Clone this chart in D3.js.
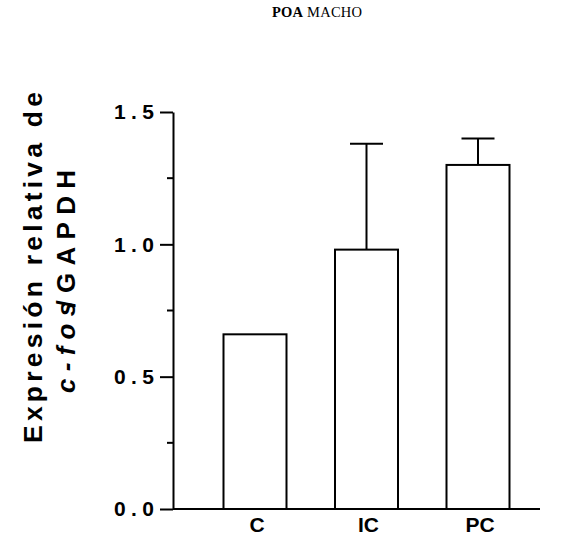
<!DOCTYPE html>
<html>
<head>
<meta charset="utf-8">
<script src="https://cdn.jsdelivr.net/npm/d3@7"></script>
<style>
  body { margin: 0; background: #fff; }
  svg { display: block; }
</style>
</head>
<body>
<div id="chart"></div>
<script>
// valores
const categories = ['C', 'IC', 'PC'];
const means = [0.66, 0.98, 1.30];
const errors = [null, 0.40, 0.10];
const majorTicks = [0, 0.5, 1.0, 1.5];
const minorTicks = [0.25, 0.75, 1.25];

const width = 561, height = 537;
const svg = d3.select('#chart').append('svg')
    .attr('width', width)
    .attr('height', height);

const y = d3.scaleLinear().domain([0, 1.5]).range([509, 112]);
const x = d3.scaleBand()
    .domain(categories)
    .range([199.25, 533.75])
    .paddingInner(0.435)
    .paddingOuter(0.2175);

const axisX = 173;

// titulo
const title = svg.append('text')
    .attr('x', 272)
    .attr('y', 17)
    .attr('textLength', 90)
    .style('font-family', '"Liberation Serif", "Times New Roman", serif')
    .style('font-size', '14.5px')
    .style('fill', '#000');
title.append('tspan').style('font-weight', 'bold').text('POA');
title.append('tspan').text(' MACHO');

// barras
const data = categories.map((c, i) => ({ cat: c, mean: means[i], err: errors[i] }));

svg.selectAll('.bar')
    .data(data)
    .enter().append('rect')
    .attr('class', 'bar')
    .attr('x', d => x(d.cat))
    .attr('y', d => y(d.mean))
    .attr('width', x.bandwidth())
    .attr('height', d => y(0) - y(d.mean))
    .attr('fill', '#fff')
    .attr('stroke', '#000')
    .attr('stroke-width', 2);

// barras de error (solo hacia arriba)
const errData = data.filter(d => d.err != null);
svg.selectAll('.err')
    .data(errData)
    .enter().append('line')
    .attr('class', 'err')
    .attr('x1', d => x(d.cat) + x.bandwidth() / 2)
    .attr('x2', d => x(d.cat) + x.bandwidth() / 2)
    .attr('y1', d => y(d.mean))
    .attr('y2', d => y(d.mean + d.err))
    .attr('stroke', '#000')
    .attr('stroke-width', 2);

svg.selectAll('.cap')
    .data(errData)
    .enter().append('line')
    .attr('class', 'cap')
    .attr('x1', d => x(d.cat) + x.bandwidth() / 2 - 16.5)
    .attr('x2', d => x(d.cat) + x.bandwidth() / 2 + 16.5)
    .attr('y1', d => y(d.mean + d.err))
    .attr('y2', d => y(d.mean + d.err))
    .attr('stroke', '#000')
    .attr('stroke-width', 2);

// eje Y
const yAxis = svg.append('g')
    .attr('transform', `translate(${axisX},0)`)
    .call(d3.axisLeft(y)
        .tickValues(majorTicks)
        .tickFormat(d3.format('.1f'))
        .tickSize(13)
        .tickSizeOuter(0)
        .tickPadding(6));
yAxis.select('.domain').attr('stroke-width', 2);
yAxis.selectAll('.tick line').attr('stroke-width', 2);
yAxis.selectAll('.tick text')
    .attr('textLength', 40)
    .attr('lengthAdjust', 'spacing')
    .style('font-family', 'Arial, "Liberation Sans", sans-serif')
    .style('font-weight', 'bold')
    .style('font-size', '21px')
    .style('fill', '#000');

// marcas menores
svg.append('g')
    .selectAll('line')
    .data(minorTicks)
    .enter().append('line')
    .attr('x1', axisX - 6)
    .attr('x2', axisX)
    .attr('y1', d => y(d))
    .attr('y2', d => y(d))
    .attr('stroke', '#000')
    .attr('stroke-width', 2);

// eje X
svg.append('line')
    .attr('x1', axisX)
    .attr('x2', 540)
    .attr('y1', y(0))
    .attr('y2', y(0))
    .attr('stroke', '#000')
    .attr('stroke-width', 2);

svg.selectAll('.xlabel')
    .data(categories)
    .enter().append('text')
    .attr('class', 'xlabel')
    .attr('x', d => x(d) + x.bandwidth() / 2 + 2)
    .attr('y', 532)
    .attr('text-anchor', 'middle')
    .style('font-family', 'Arial, "Liberation Sans", sans-serif')
    .style('font-weight', 'bold')
    .style('font-size', '21px')
    .text(d => d);

// titulo del eje Y
svg.append('text')
    .attr('transform', 'translate(42,443) rotate(-90)')
    .attr('textLength', 351)
    .attr('lengthAdjust', 'spacing')
    .style('font-family', 'Arial, "Liberation Sans", sans-serif')
    .style('font-weight', 'bold')
    .style('font-size', '26.5px')
    .text('Expresión relativa de');

const yl2 = svg.append('text')
    .attr('transform', 'translate(75,393) rotate(-90)')
    .attr('textLength', 223)
    .attr('lengthAdjust', 'spacing')
    .style('font-family', 'Arial, "Liberation Sans", sans-serif')
    .style('font-weight', 'bold')
    .style('font-size', '26px');
yl2.append('tspan').style('font-style', 'italic').text('c-fos');
yl2.append('tspan').attr('dx', -13).text('/GAPDH');
</script>
</body>
</html>
